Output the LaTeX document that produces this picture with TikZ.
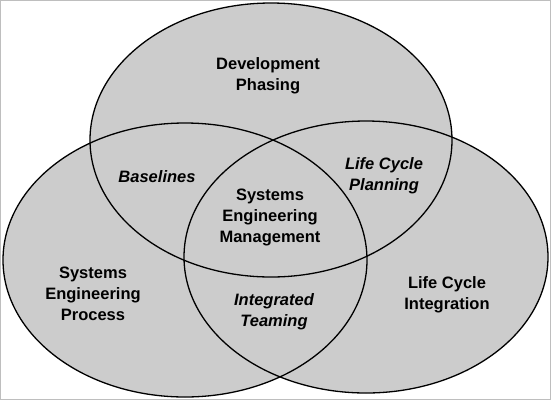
\documentclass[tikz,border=0pt]{standalone}
\usepackage{fontspec}
\setmainfont{Liberation Sans}
\usepackage{tikz}
\usetikzlibrary{positioning}
\usepackage{xcolor}
\definecolor{circlegray}{RGB}{204, 204, 204}
\definecolor{framegray}{RGB}{190, 190, 190}

\begin{document}
\begin{tikzpicture}[x=1pt, y=-1pt,
    area/.style={fill=circlegray},
    rim/.style={black, line width=1.3pt},
    label/.style={align=center, font=\fontsize{16.5}{21}\selectfont\bfseries},
    overlap/.style={label, font=\fontsize{16.5}{21}\selectfont\bfseries\itshape}]
    % frame
    \draw[framegray, line width=1pt] (0.5,0.5) rectangle (550.5,399.5);

    % the three ellipses
    \fill[area] (271,140) ellipse [x radius=181, y radius=137];
    \fill[area] (185,260) ellipse [x radius=182, y radius=137];
    \fill[area] (366,257) ellipse [x radius=182, y radius=136];
    \draw[rim] (271,140) ellipse [x radius=181, y radius=137];
    \draw[rim] (185,260) ellipse [x radius=182, y radius=137];
    \draw[rim] (366,257) ellipse [x radius=182, y radius=136];

    % outer labels
    \node[label] (phasing) at (268,76) {Development\\Phasing};
    \node[label] (process) at (93,294) {Systems\\Engineering\\Process};
    \node[label] (integration) at (447,295) {Life Cycle\\Integration};

    % overlaps
    \node[overlap] (baselines) at (157,177) {Baselines};
    \node[overlap] (planning) at (384,176) {Life Cycle\\Planning};
    \node[overlap] (teaming) at (274,312) {Integrated\\Teaming};
    \node[label] (management) at (270,217) {Systems\\Engineering\\Management};
\end{tikzpicture}
\end{document}
